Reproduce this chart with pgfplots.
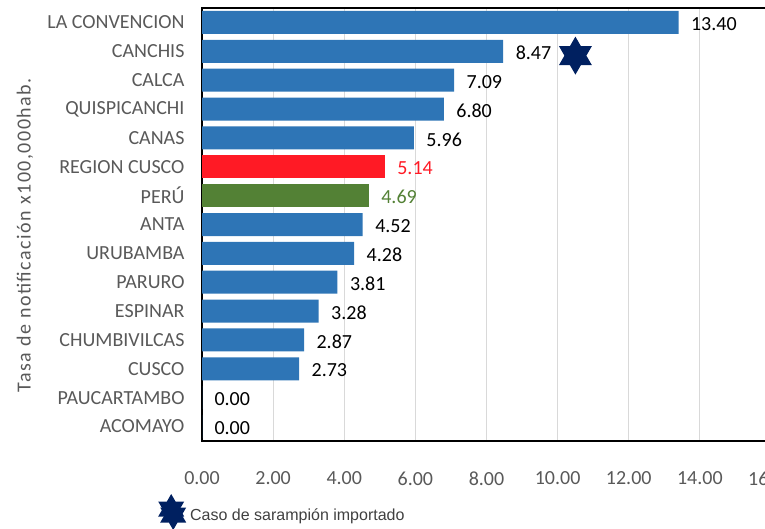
\documentclass[border=0pt]{standalone}
\usepackage{pgfplots}
\pgfplotsset{compat=1.18}
\usepackage{fontspec}
\setmainfont{Carlito}
\newfontfamily\arialfont{Liberation Sans}
\newfontfamily\spacedfont[LetterSpace=7.5]{Carlito}
\definecolor{barblue}{HTML}{2E75B6}
\definecolor{barred}{HTML}{FF1A25}
\definecolor{bargreen}{HTML}{538135}
\definecolor{navy}{HTML}{002060}
\definecolor{txtgray}{HTML}{595959}
\pgfdeclareplotmark{hexstar}{%
 \pgfpathmoveto{\pgfqpoint{0pt}{\pgfplotmarksize}}%
 \pgfpathlineto{\pgfqpoint{0.866\pgfplotmarksize}{-0.5\pgfplotmarksize}}%
 \pgfpathlineto{\pgfqpoint{-0.866\pgfplotmarksize}{-0.5\pgfplotmarksize}}%
 \pgfpathclose
 \pgfpathmoveto{\pgfqpoint{0pt}{-\pgfplotmarksize}}%
 \pgfpathlineto{\pgfqpoint{-0.866\pgfplotmarksize}{0.5\pgfplotmarksize}}%
 \pgfpathlineto{\pgfqpoint{0.866\pgfplotmarksize}{0.5\pgfplotmarksize}}%
 \pgfpathclose
 \pgfusepathqfill
}
\begin{document}
\begin{tikzpicture}
\useasboundingbox (0pt,0pt) rectangle (765pt,529pt);
\clip (0pt,0pt) rectangle (765pt,529pt);
\begin{axis}[
  at={(202pt,88pt)}, anchor=south west,
  scale only axis, width=569pt, height=433pt,
  xbar, bar width=23pt,
  xmin=0, xmax=16, ymin=-0.5, ymax=14.5,
  y dir=reverse,
  xtick={0,2,...,16},
  ytick={0,...,14},
  yticklabels={LA CONVENCION,CANCHIS,CALCA,QUISPICANCHI,CANAS,REGION CUSCO,PERÚ,ANTA,URUBAMBA,PARURO,ESPINAR,CHUMBIVILCAS,CUSCO,PAUCARTAMBO,ACOMAYO},
  major tick length=0pt,
  xmajorgrids, grid style={draw=black!15, line width=1.2pt},
  axis line style={black, line width=1.6pt},
  tick label style={font=\fontsize{20}{23}\selectfont, text=txtgray},
  yticklabel style={xshift=-14pt},
  xticklabel style={yshift=-27pt, /pgf/number format/fixed, /pgf/number format/fixed zerofill, /pgf/number format/precision=2, /pgf/number format/assume math mode=true},
  ylabel={Tasa de notificación x100,000hab.},
  ylabel style={at={(axis description cs:-0.311,0.475)}, anchor=center, font=\spacedfont\fontsize{20}{23}\selectfont, text=txtgray},
  nodes near coords,
  every node near coord/.append style={font=\fontsize{20}{23}\selectfont, xshift=9pt, yshift=-1.5pt, /pgf/number format/fixed, /pgf/number format/fixed zerofill, /pgf/number format/precision=2, /pgf/number format/assume math mode=true},
  legend style={at={(axis description cs:-0.0773,-0.164)}, anchor=west, draw=none, fill=none, font=\arialfont\fontsize{16}{18}\selectfont, text=black!75, inner sep=0pt, legend cell align=left, nodes={inner xsep=4pt, yshift=-2pt}},
  clip=false,
]
\addplot[fill=barblue, draw=none, bar shift=0pt, every node near coord/.append style={text=black}, forget plot] coordinates {
 (13.40,0) (8.47,1) (7.09,2) (6.80,3) (5.96,4) (4.52,7) (4.28,8) (3.81,9) (3.28,10) (2.87,11) (2.73,12) (0.00,13) (0.00,14)};
\addplot[fill=barred, draw=none, bar shift=0pt, every node near coord/.append style={text=barred}, forget plot] coordinates {(5.14,5)};
\addplot[fill=bargreen, draw=none, bar shift=0pt, every node near coord/.append style={text=bargreen}, forget plot] coordinates {(4.69,6)};
\addplot[only marks, mark=hexstar, mark size=19pt, color=navy, nodes near coords={}, legend image post style={mark size=15pt}] coordinates {(10.5,1.15)};
\addlegendentry{Caso de sarampión importado}
\end{axis}
\end{tikzpicture}
\end{document}
